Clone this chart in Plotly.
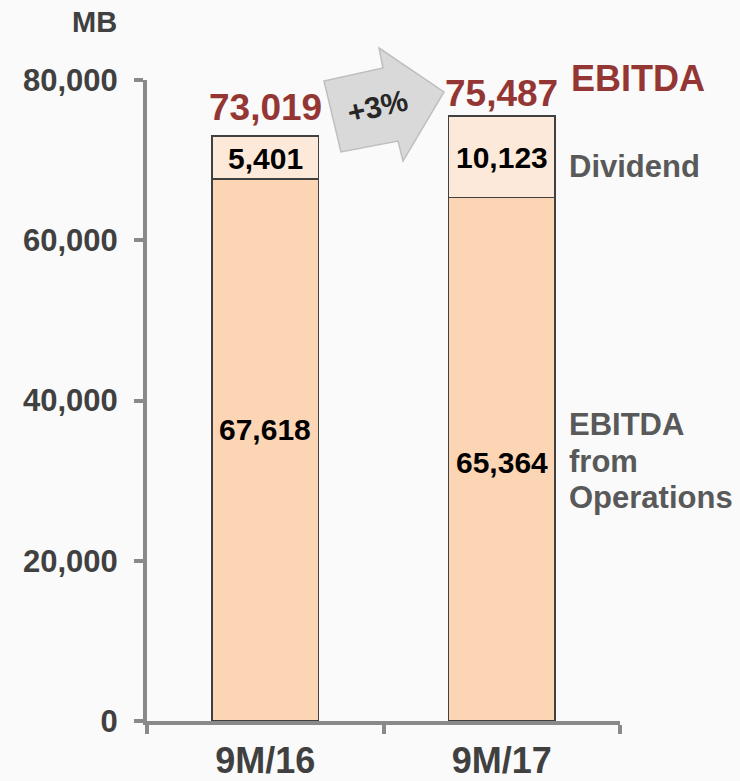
import plotly.graph_objects as go

# ---- data ----
categories = ["9M/16", "9M/17"]
ebitda_ops = [67618, 65364]
dividend = [5401, 10123]
totals = [73019, 75487]
growth_label = "+3%"
y_ticks = [0, 20000, 40000, 60000, 80000]
y_tick_labels = ["0", "20,000", "40,000", "60,000", "80,000"]

# ---- layout geometry (pixels) ----
W, H = 740, 781
L, R, T, B = 147, 120, 80, 60
PW, PH = W - L - R, H - T - B

def px(xp):
    return (xp - L) / PW

def py(yp):
    return (H - B - yp) / PH

FONT = "Liberation Sans, Arial, sans-serif"
RED = "#943634"
GREY_TXT = "#595959"
AXIS = "#898989"

fig = go.Figure()
fig.add_trace(go.Bar(
    x=categories, y=ebitda_ops, name="EBITDA from Operations",
    marker=dict(color="#FCD5B5", line=dict(color="#404040", width=1.5)),
    width=0.45, hoverinfo="skip",
))
fig.add_trace(go.Bar(
    x=categories, y=dividend, name="Dividend",
    marker=dict(color="#FDE9D9", line=dict(color="#404040", width=1.5)),
    width=0.45, hoverinfo="skip",
))

ann = []
# segment labels
ops_shift = [21, -3]
for i, c in enumerate(categories):
    ann.append(dict(x=c, y=ebitda_ops[i] / 2, xref="x", yref="y", text=f"{ebitda_ops[i]:,}",
                    showarrow=False, yshift=ops_shift[i],
                    font=dict(family=FONT, size=30, color="#000000", weight="bold")))
    ann.append(dict(x=c, y=ebitda_ops[i] + dividend[i] / 2, xref="x", yref="y", text=f"{dividend[i]:,}",
                    showarrow=False, yshift=-1,
                    font=dict(family=FONT, size=30, color="#000000", weight="bold")))
# totals
tot_shift = [28, 23]
for i, c in enumerate(categories):
    ann.append(dict(x=c, y=totals[i], xref="x", yref="y", text=f"{totals[i]:,}",
                    showarrow=False, yshift=tot_shift[i], yanchor="middle",
                    font=dict(family=FONT, size=37, color=RED, weight="bold")))

# side labels
ann.append(dict(x=px(569), y=py(78), xref="paper", yref="paper", text="EBITDA", showarrow=False,
                xanchor="left", yanchor="middle",
                font=dict(family=FONT, size=36, color=RED, weight="bold")))
ann.append(dict(x=px(567), y=py(166), xref="paper", yref="paper", text="Dividend", showarrow=False,
                xanchor="left", yanchor="middle",
                font=dict(family=FONT, size=31, color=GREY_TXT, weight="bold")))
for txt, yy in [("EBITDA", 424), ("from", 461), ("Operations", 498)]:
    ann.append(dict(x=px(567), y=py(yy), xref="paper", yref="paper", text=txt, showarrow=False,
                    xanchor="left", yanchor="middle",
                    font=dict(family=FONT, size=31, color=GREY_TXT, weight="bold")))
# MB unit
ann.append(dict(x=px(119), y=py(22), xref="paper", yref="paper", text="MB", showarrow=False,
                xanchor="right", yanchor="middle",
                font=dict(family=FONT, size=29, color="#404040", weight="bold")))
# growth label
ann.append(dict(x=px(377), y=py(106), xref="paper", yref="paper", text=growth_label, showarrow=False,
                xanchor="center", yanchor="middle", textangle=-13,
                font=dict(family=FONT, size=30, color="#262626", weight="bold")))

# growth arrow (decorative block arrow)
arrow_px = [(324, 81), (383, 68), (379, 48), (444, 92), (403, 161), (398, 141), (341, 152)]
path = "M " + " L ".join(f"{px(a):.4f},{py(b):.4f}" for a, b in arrow_px) + " Z"
shapes = [dict(type="path", path=path, xref="paper", yref="paper",
               fillcolor="#D9D9D9", line=dict(color="#BFBFBF", width=1.5), layer="below")]

fig.update_layout(
    width=W, height=H,
    margin=dict(l=L, r=R, t=T, b=B, pad=0, autoexpand=False),
    barmode="stack",
    showlegend=False,
    paper_bgcolor="#FAFAFA",
    plot_bgcolor="#FAFAFA",
    annotations=ann,
    shapes=shapes,
    font=dict(family=FONT),
)
fig.update_xaxes(
    automargin=False,
    showline=True, linecolor=AXIS, linewidth=4,
    ticks="outside", tickson="boundaries", ticklen=9, tickwidth=4, tickcolor=AXIS,
    tickfont=dict(family=FONT, size=36, color="#404040", weight="bold"),
    showgrid=False, zeroline=False, range=[-0.5, 1.5], ticklabelstandoff=5,
)
fig.update_yaxes(
    automargin=False,
    range=[0, 80000], tickvals=y_ticks, ticktext=y_tick_labels,
    showline=True, linecolor=AXIS, linewidth=4,
    ticks="outside", ticklen=9, tickwidth=4, tickcolor=AXIS,
    tickfont=dict(family=FONT, size=31, color="#404040", weight="bold"),
    showgrid=False, zeroline=False, ticklabelstandoff=10,
)

fig.write_html(
    "out.html",
    config={"displayModeBar": False},
    post_script="document.body.style.margin='0';document.body.style.overflow='hidden';"
                "document.body.style.background='#FAFAFA';",
)
